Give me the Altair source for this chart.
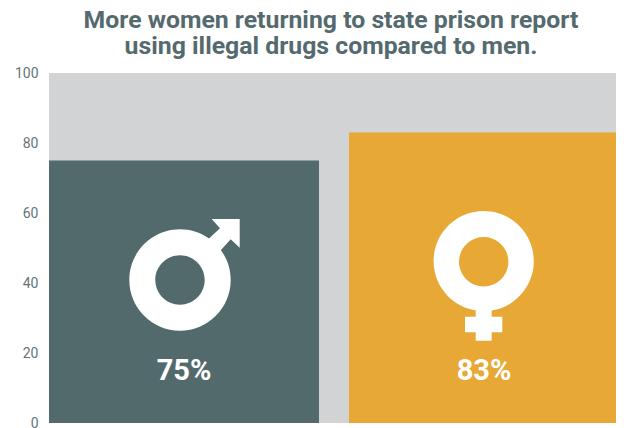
import altair as alt
import pandas as pd

title_lines = ["More women returning to state prison report", "using illegal drugs compared to men."]
groups = ["Men", "Women"]
values = [75, 83]
bar_colors = ["#536a6d", "#e7a836"]
labels = ["75%", "83%"]
label_y = [12.4, 12.4]
icon_y = [42, 42]

# icons drawn around their anchor, in px when size=4 (anchor: bar centre, y=42)
male = ("M-4 -46.7A50.7 50.7 0 1 0 -4 54.7A50.7 50.7 0 1 0 -4 -46.7Z"
        "M-4 -20.7A24.7 24.7 0 1 1 -4 28.7A24.7 24.7 0 1 1 -4 -20.7Z"
        "M33 -22L37 -26L46.7 -36.7L55.7 -28.3L55.7 -57L27.7 -57L36 -47.7L25.3 -37.7L22 -34Z")
female = ("M-0.3 -65A50.1 50.1 0 1 0 -0.3 35.2A50.1 50.1 0 1 0 -0.3 -65Z"
          "M-0.3 -39A24.7 24.7 0 1 1 -0.3 10.4A24.7 24.7 0 1 1 -0.3 -39Z"
          "M-8.3 28L-8.3 40.7L-19 40.7L-19 56.3L-8.3 56.3L-8.3 64.7L7.7 64.7L7.7 56.3L18.3 56.3L18.3 40.7L7.7 40.7L7.7 28Z")

df = pd.DataFrame({"group": groups, "value": values, "label": labels,
                   "label_y": label_y, "icon_y": icon_y, "color": bar_colors})

x = alt.X("group:N", title=None, sort=groups,
          scale=alt.Scale(paddingInner=0.1, paddingOuter=0, domain=groups, range=[0, 570]), axis=None)
y_scale = alt.Scale(domain=[0, 100], nice=False)

bars = alt.Chart(df).mark_bar().encode(
    x=x,
    y=alt.Y("value:Q", title=None, scale=y_scale,
            axis=alt.Axis(values=[0, 20, 40, 60, 80, 100], domain=False, ticks=False, grid=False,
                          labelFont="Roboto", labelFontSize=14, labelColor="#5f7679", labelPadding=11)),
    color=alt.Color("color:N", scale=None),
)

icons = [
    alt.Chart(df[df.group == g]).mark_point(shape=p, size=4, filled=True, fill="white", opacity=1, strokeWidth=0).encode(
        x=x, y=alt.Y("icon_y:Q", scale=y_scale))
    for g, p in zip(groups, [male, female])
]

text = alt.Chart(df).mark_text(font="Roboto", fontWeight="bold", fontSize=29, color="white", baseline="alphabetic").encode(
    x=x, y=alt.Y("label_y:Q", scale=y_scale), text="label:N")

chart = alt.layer(bars, *icons, text).properties(
    width=567, height=350,
    padding={"left": 41, "top": 65, "right": 0, "bottom": 10},
    autosize=alt.AutoSizeParams(type="none"),
    title=alt.TitleParams(title_lines, font="Roboto", fontWeight="bold", fontSize=24.8, color="#546a6e",
                          lineHeight=26, anchor="middle", dx=-1.5, offset=7),
).configure_view(fill="#d1d3d4", stroke=None)

chart.save("out.html", embed_options={"renderer": "svg", "actions": False})
